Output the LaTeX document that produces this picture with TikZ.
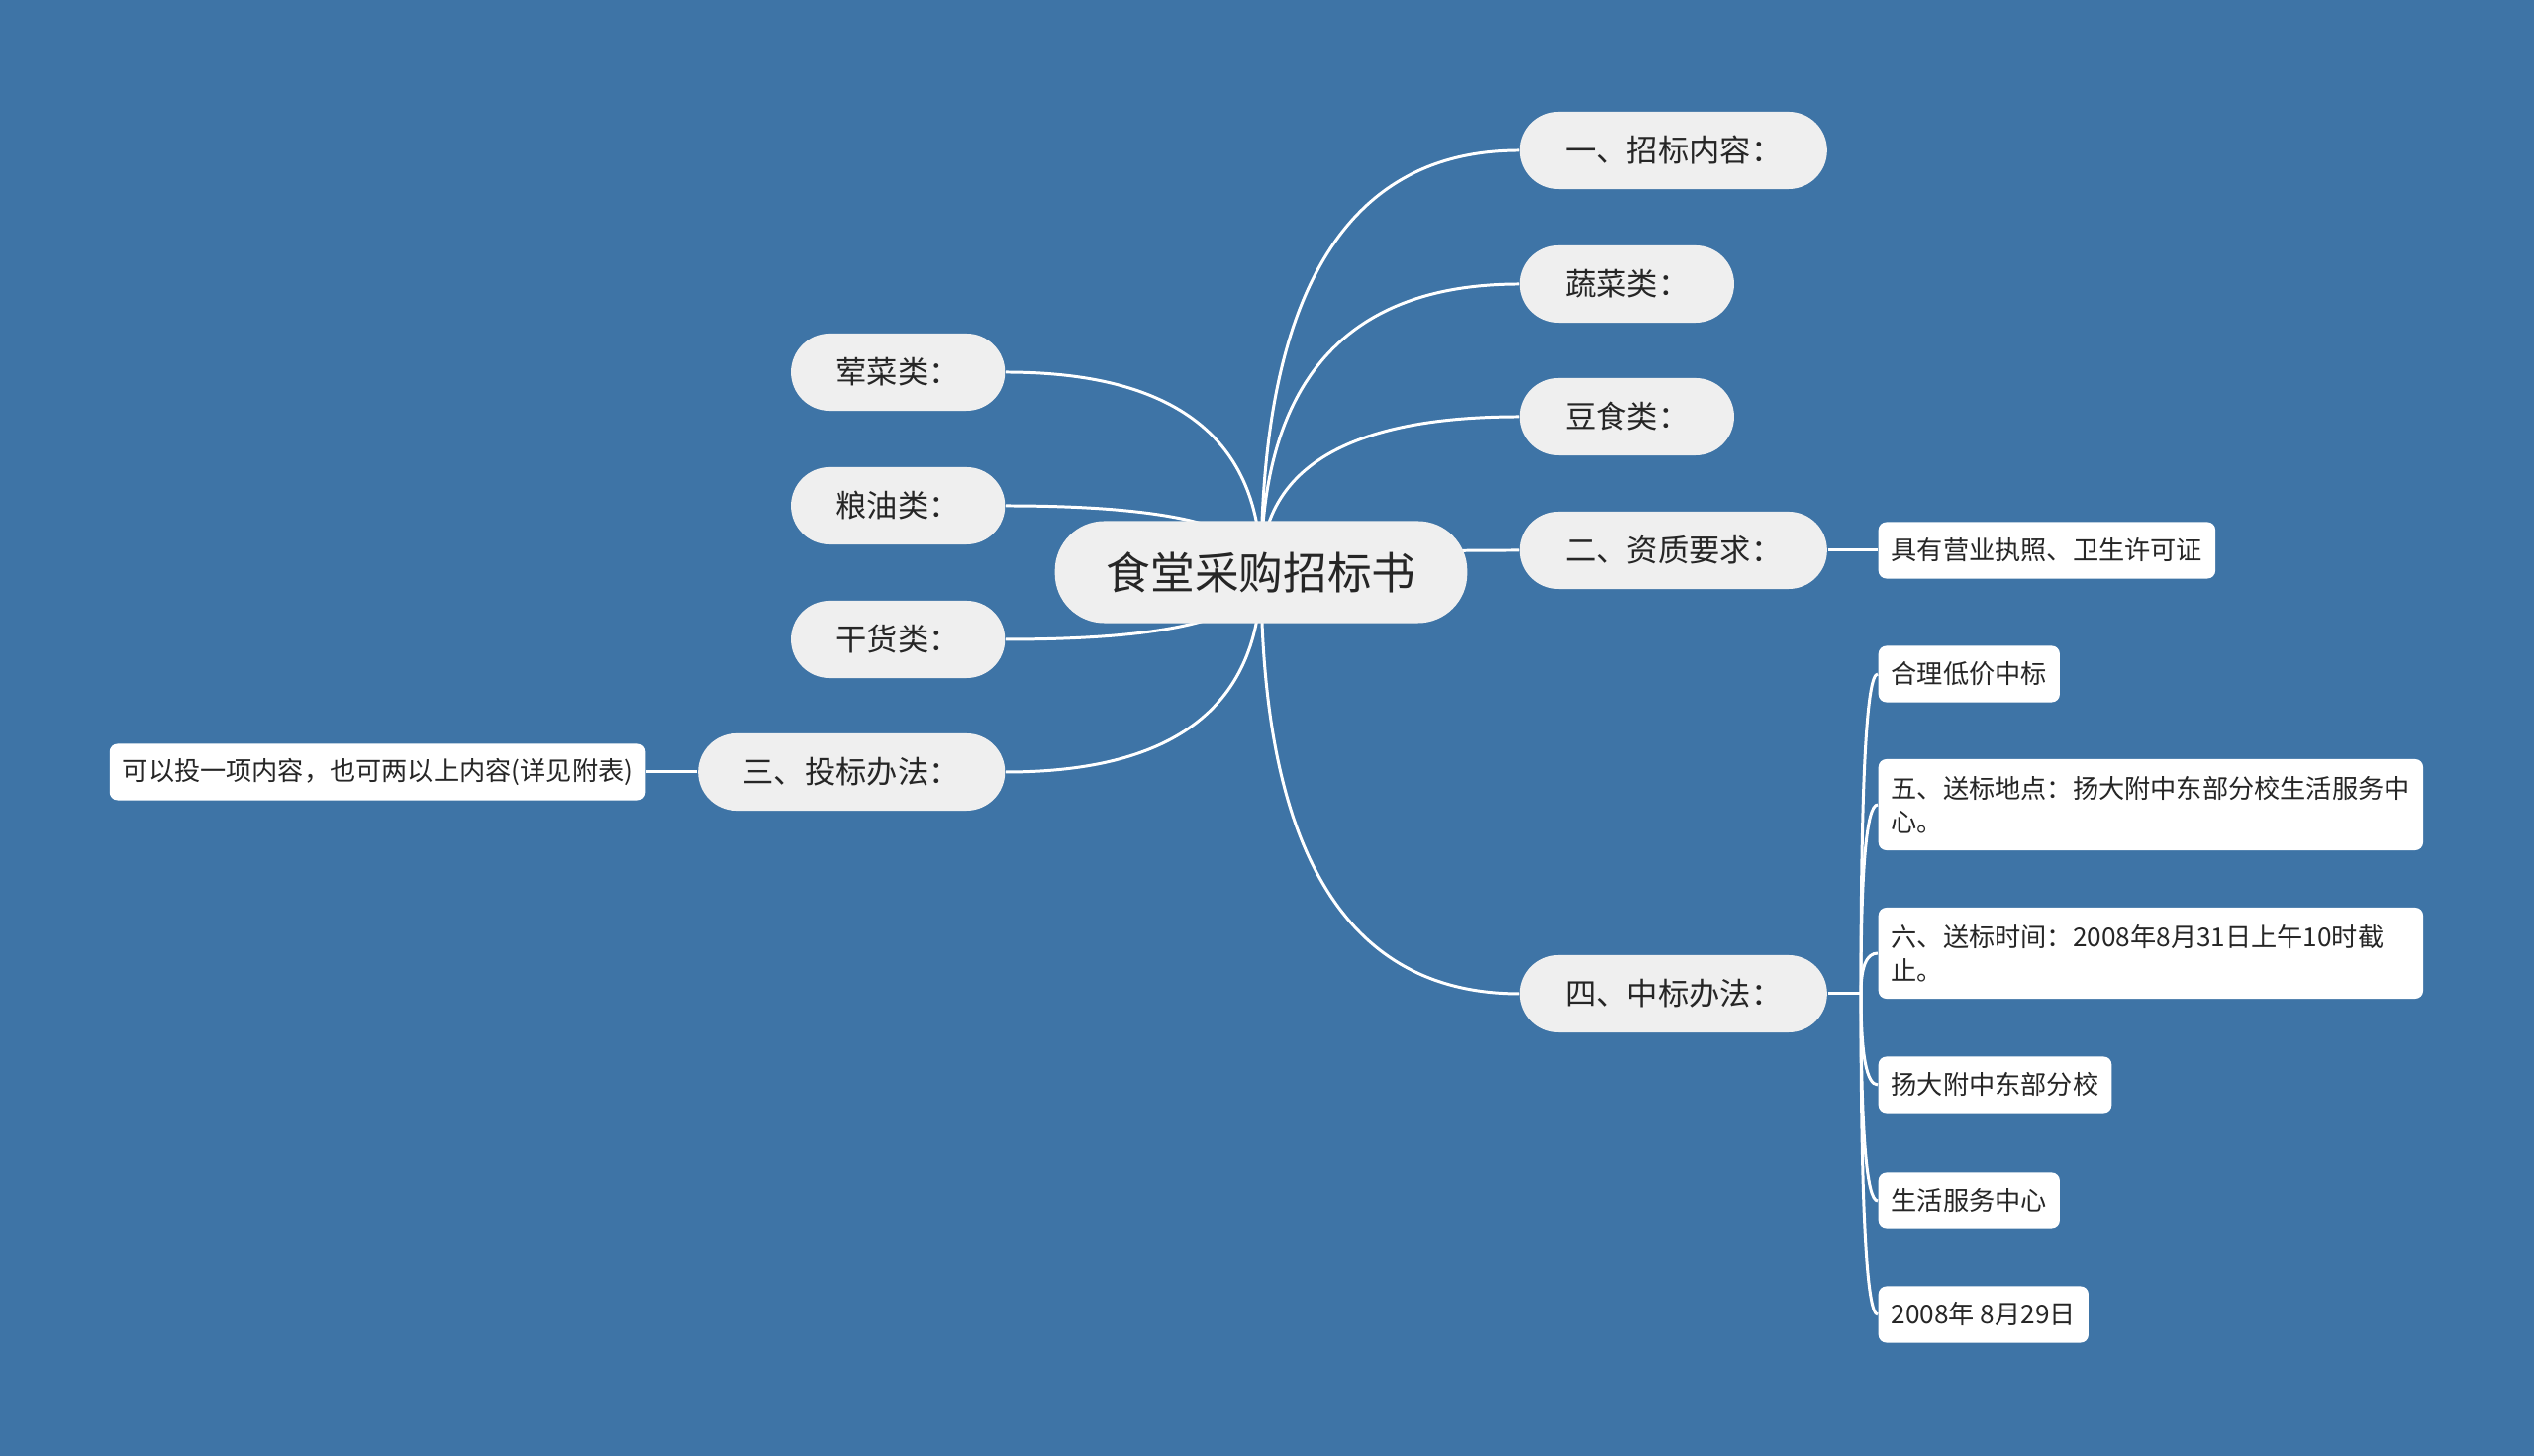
\documentclass[tikz,border=0pt]{standalone}
\usepackage{fontspec}
\setmainfont{Noto Sans CJK SC}
\usetikzlibrary{calc}
\pgfdeclarelayer{links}
\pgfsetlayers{links,main}
\definecolor{mapblue}{HTML}{3E74A6}
\definecolor{topicgray}{HTML}{EFEFEF}
\definecolor{inkgray}{HTML}{262626}

\begin{document}
\begin{tikzpicture}[
    x=0.01cm, y=-0.01cm,
    root/.style={fill=topicgray, rounded corners=0.5cm, minimum height=1.03cm, inner xsep=0.52cm, text=inkgray, font=\fontsize{12.7pt}{15pt}\selectfont},
    topic/.style={fill=topicgray, rounded corners=0.39cm, minimum height=0.78cm, inner xsep=0.455cm, text=inkgray, font=\fontsize{8.9pt}{11pt}\selectfont},
    leaf/.style={fill=white, rounded corners=0.08cm, minimum height=0.57cm, inner xsep=0.13cm, text=inkgray, font=\fontsize{7.45pt}{9.7pt}\selectfont},
    longleaf/.style={leaf, text width=5.24cm, align=left, minimum height=0.92cm},
    link/.style={draw=white, line width=0.85pt},
    mapcurve/.style={to path={.. controls ($(\tikztostart)!2/3!(\tikztostart|-\tikztotarget)$) and ($(\tikztotarget)!2/3!(\tikztostart|-\tikztotarget)$) .. (\tikztotarget)}}
]
    \useasboundingbox (0, 0) rectangle (2560, 1471);

    % Central topic
    \node[root] (root) at (1274, 578) {食堂采购招标书};

    % Right topics
    \node[topic, anchor=west] (content) at (1535, 152) {一、招标内容：};
    \node[topic, anchor=west] (veg) at (1535, 287) {蔬菜类：};
    \node[topic, anchor=west] (bean) at (1535, 421) {豆食类：};
    \node[topic, anchor=west] (quali) at (1535, 556) {二、资质要求：};
    \node[topic, anchor=west] (award) at (1535, 1004) {四、中标办法：};

    % Left topics
    \node[topic, anchor=east] (meat) at (1016, 376) {荤菜类：};
    \node[topic, anchor=east] (grain) at (1016, 511) {粮油类：};
    \node[topic, anchor=east] (dry) at (1016, 646) {干货类：};
    \node[topic, anchor=east] (bidway) at (1016, 780) {三、投标办法：};

    % Details
    \node[leaf, anchor=east] (bidnote) at (653, 780) {可以投一项内容，也可两以上内容(详见附表)};
    \node[leaf, anchor=west] (license) at (1897, 556) {具有营业执照、卫生许可证};
    \node[leaf, anchor=west] (lowprice) at (1897, 681) {合理低价中标};
    \node[longleaf, anchor=west] (place) at (1897, 813) {五、送标地点：扬大附中东部分校生活服务中\\心。};
    \node[longleaf, anchor=west] (time) at (1897, 963) {六、送标时间：2008年8月31日上午10时截\\止。};
    \node[leaf, anchor=west] (school) at (1897, 1096) {扬大附中东部分校};
    \node[leaf, anchor=west] (life) at (1897, 1213) {生活服务中心};
    \node[leaf, anchor=west] (date) at (1897, 1328) {2008年 8月29日};
    \coordinate (fork) at (1880, 1004);

    % Branches
    \begin{pgfonlayer}{links}
        \fill[mapblue] (0, 0) rectangle (2560, 1471);
        \foreach \t in {content, veg, bean, quali, award}
            \draw[link] (root.center) to[mapcurve] (\t.west);
        \foreach \t in {meat, grain, dry, bidway}
            \draw[link] (root.center) to[mapcurve] (\t.east);
        \draw[link] (quali.east) -- (license.west);
        \draw[link] (bidway.west) -- (bidnote.east);
        \draw[link] (award.east) -- (fork);
        \foreach \t in {lowprice, place, time, school, life, date}
            \draw[link] (fork) to[mapcurve] (\t.west);
    \end{pgfonlayer}
\end{tikzpicture}
\end{document}
